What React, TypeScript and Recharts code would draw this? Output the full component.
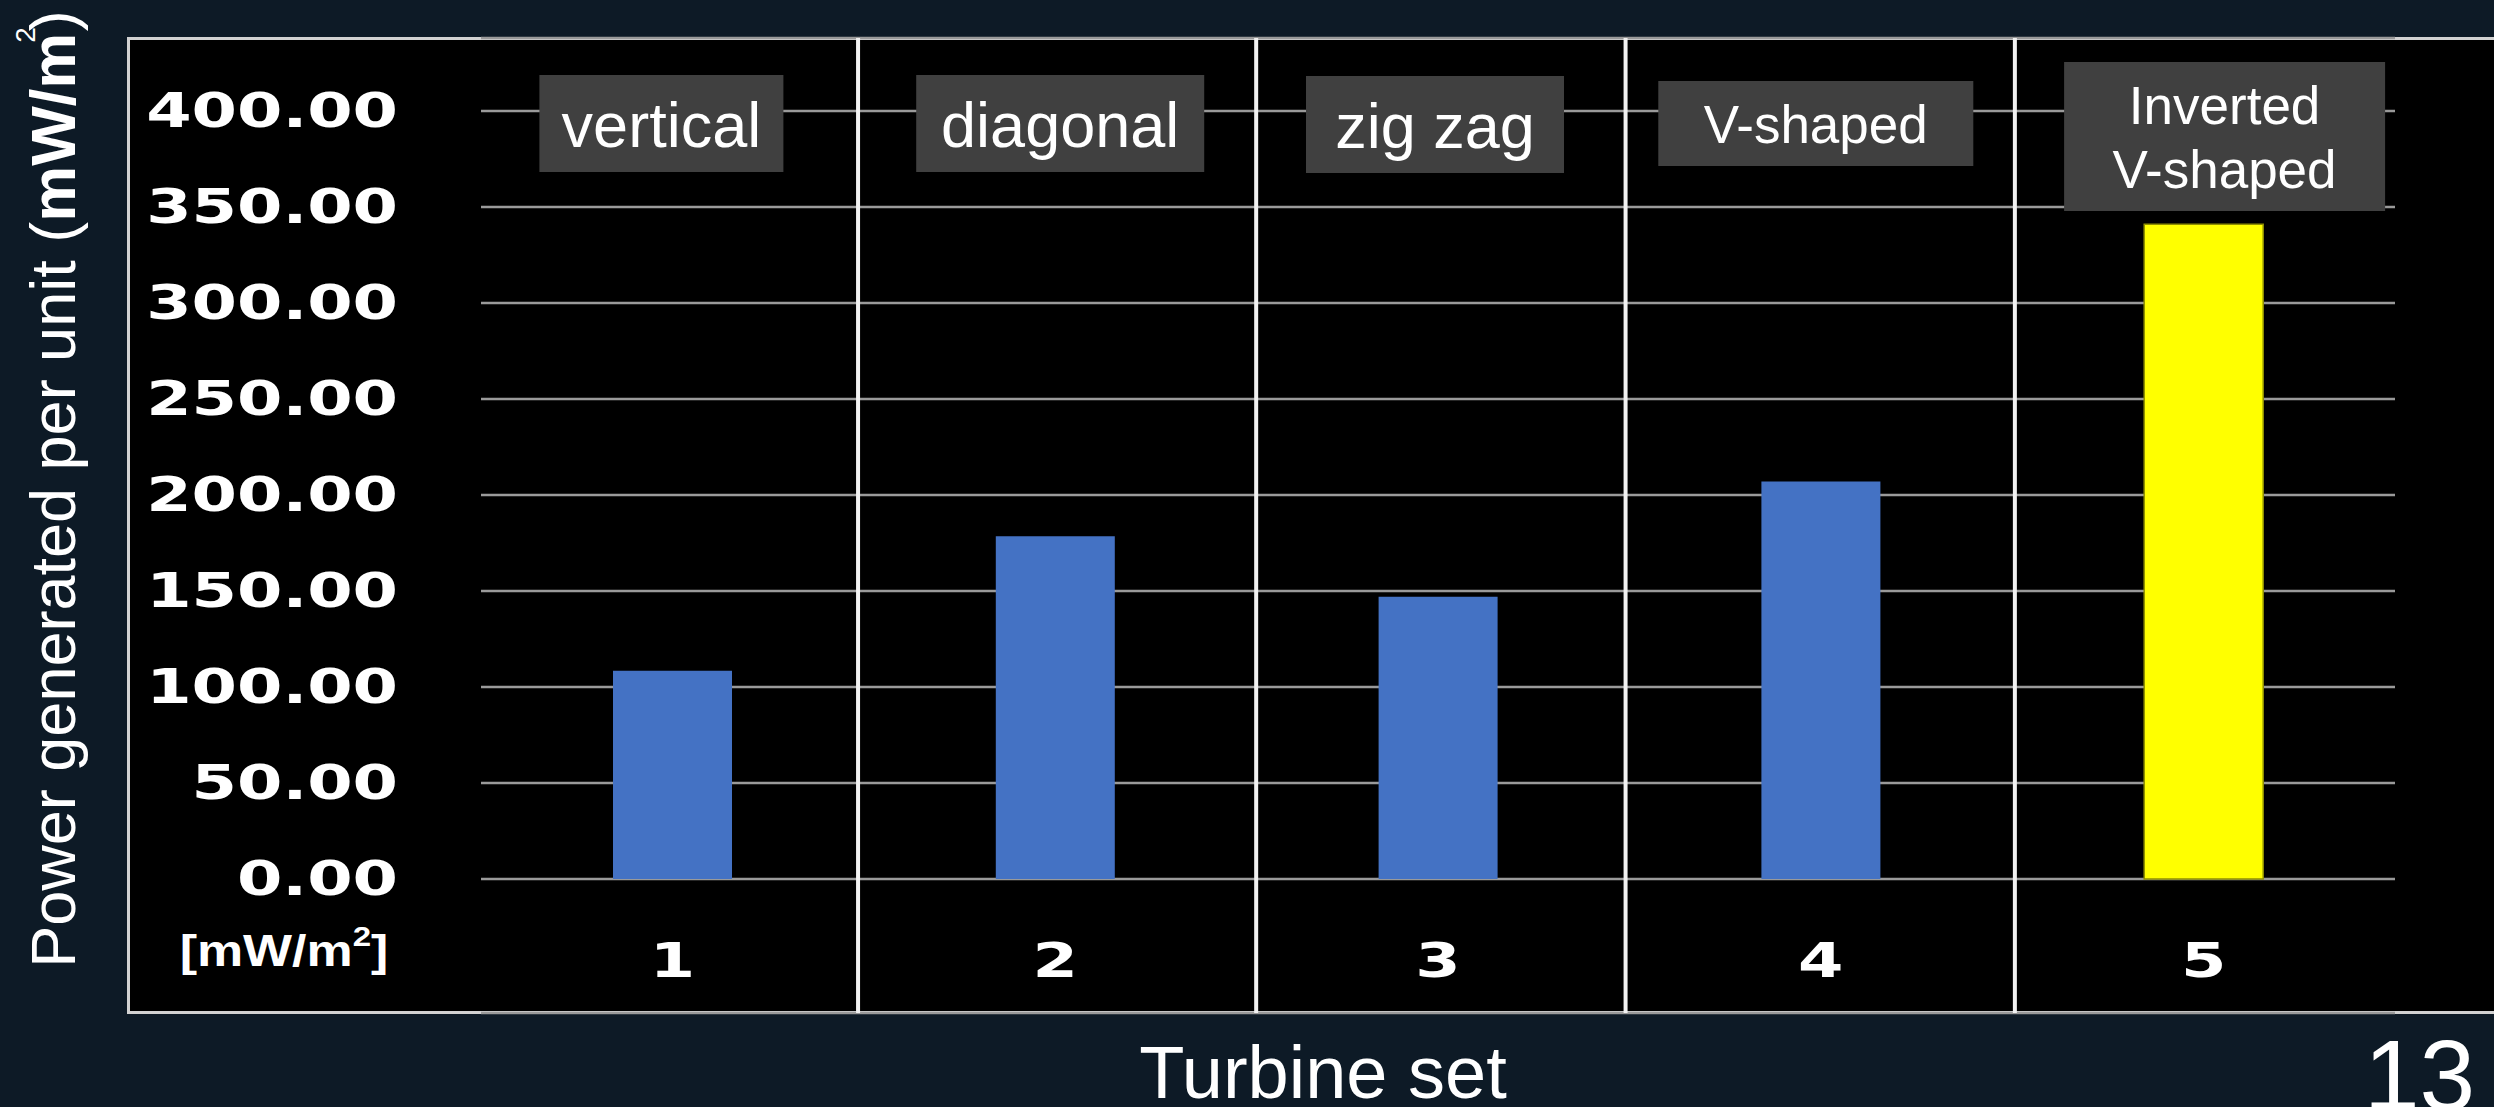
import React from 'react';
import { BarChart, Bar, XAxis, YAxis, CartesianGrid, ReferenceLine, Cell } from 'recharts';

// Chart values
const turbineSets = ['1', '2', '3', '4', '5'];
const layoutNames = [['vertical'], ['diagonal'], ['zig zag'], ['V-shaped'], ['Inverted', 'V-shaped']];
const powerValues = [108.5, 178.5, 147, 207, 341];
const yTicks = [0, 50, 100, 150, 200, 250, 300, 350, 400];
// section dividers, in units of turbine-set bands (0 = left edge of set 1)
const dividerPositions = [0.985, 2.025, 2.99, 4.007];

// Styles
const BLUE = '#4472c4';
const YELLOW = '#ffff00';
const barColors = [BLUE, BLUE, BLUE, BLUE, YELLOW];
const barOutlines = ['none', 'none', 'none', 'none', '#8f8f00'];
const BG = '#0d1a26';
const TICK_FONT = '"DejaVu Sans", Verdana, sans-serif';
const ARIAL = '"Liberation Sans", Arial, sans-serif';

// grey tag boxes above each set (width, height, centre y, font size, x nudge)
const tagBoxes = [
  { w: 244, h: 97, cy: 123.5, fs: 63, dx: -11 },
  { w: 288, h: 97, cy: 123.5, fs: 63, dx: 5 },
  { w: 258, h: 97, cy: 124.5, fs: 63, dx: -3 },
  { w: 315, h: 85, cy: 123.5, fs: 53, dx: -5 },
  { w: 321, h: 149, cy: 136.5, fs: 53, dx: 21 },
];

const data = turbineSets.map((set, i) => ({ set, idx: i + 0.5, power: powerValues[i] }));

const renderYTick = (props: any) => {
  const { x, y, payload } = props;
  return (
    <g transform={`translate(${x},${y}) scale(1.36,1)`}>
      <text x={0} y={0} textAnchor="end" dominantBaseline="central" fill="#fff"
        fontFamily={TICK_FONT} fontWeight="bold" fontSize={48}>
        {Number(payload.value).toFixed(2)}
      </text>
    </g>
  );
};

const renderXTick = (props: any) => {
  const { x, y, payload } = props;
  return (
    <g transform={`translate(${x},${y - 60}) scale(1.36,1)`}>
      <text x={0} y={0} textAnchor="middle" dominantBaseline="central" fill="#fff"
        fontFamily={TICK_FONT} fontWeight="bold" fontSize={48}>
        {payload.value}
      </text>
    </g>
  );
};

const renderTag = (props: any) => {
  const { x, payload } = props;
  const idx = turbineSets.indexOf(String(payload.value));
  if (idx < 0) return <g />;
  const b = tagBoxes[idx];
  const lines = layoutNames[idx];
  const cx = x + b.dx;
  return (
    <g>
      <rect x={cx - b.w / 2} y={b.cy - b.h / 2} width={b.w} height={b.h} fill="#404040" />
      {lines.map((t, i) => (
        <text key={i} x={cx} y={b.cy + 1 + (i - (lines.length - 1) / 2) * 64}
          textAnchor="middle" dominantBaseline="central" fill="#fff"
          fontFamily={ARIAL} fontSize={b.fs}>
          {t}
        </text>
      ))}
    </g>
  );
};

export default function App() {
  return (
    <div style={{ position: 'absolute', left: 0, top: 0, width: 2494, height: 1107, background: BG, overflow: 'hidden' }}>
      {/* black chart panel */}
      <div style={{
        position: 'absolute', left: 127, top: 37, width: 2420, height: 971,
        background: '#000', border: '3px solid #d2d2d2',
      }} />

      <div style={{ position: 'absolute', left: 0, top: 0 }}>
        <BarChart width={2494} height={1107} data={data}
          margin={{ top: 37, right: 99, bottom: 93, left: 281 }}>
          <CartesianGrid horizontal vertical={false} stroke="#9a9a9a" strokeWidth={2.5} />
          <XAxis dataKey="set" height={1} axisLine={false} tickLine={false} interval={0} tick={renderXTick} />
          <XAxis xAxisId="top" orientation="top" dataKey="set" height={1} axisLine={false}
            tickLine={false} interval={0} tick={renderTag} />
          <XAxis xAxisId="div" dataKey="idx" type="number" domain={[0, 5]} allowDataOverflow
            padding={{ left: 0, right: 0 }} hide />
          <YAxis domain={[-69.8, 438]} ticks={yTicks} allowDataOverflow interval={0} width={200}
            axisLine={false} tickLine={false} tickMargin={77} tick={renderYTick} />
          {dividerPositions.map((p) => (
            <ReferenceLine key={p} xAxisId="div" x={p} stroke="#f2f2f2" strokeWidth={4} ifOverflow="visible" />
          ))}
          <Bar dataKey="power" barSize={119} isAnimationActive={false}>
            {data.map((d, i) => (
              <Cell key={d.set} fill={barColors[i]} stroke={barOutlines[i]} strokeWidth={1.5} />
            ))}
          </Bar>
        </BarChart>
      </div>

      {/* y axis title, rotated */}
      <div style={{
        position: 'absolute', left: 53 - 500, top: 489 - 35, width: 1000, height: 70,
        lineHeight: '70px', textAlign: 'center', whiteSpace: 'nowrap',
        fontFamily: ARIAL, fontSize: 63, color: '#fff', transform: 'rotate(-90deg)',
      }}>
        Power generated per unit (<b>mW/m</b>
        <span style={{ fontSize: 28, position: 'relative', top: -40, marginLeft: -10 }}>2</span>
        <span style={{ marginLeft: -4 }}>)</span>
      </div>

      {/* other titles */}
      <svg width={2494} height={1107} style={{ position: 'absolute', left: 0, top: 0, pointerEvents: 'none' }}>
        <g transform="translate(284,950) scale(1.18,1)">
          <text x={0} y={0} textAnchor="middle" dominantBaseline="central" fontFamily={ARIAL}
            fontWeight="bold" fontSize={44} fill="#fff">
            [mW/m<tspan fontSize={28} dy={-14}>2</tspan><tspan dy={14}>]</tspan>
          </text>
        </g>
        <text x={1323} y={1098} textAnchor="middle" fontFamily={ARIAL} fontSize={74} fill="#fff">
          Turbine set
        </text>
        <text x={2364} y={1110} fontFamily={ARIAL} fontSize={100} fill="#fff">13</text>
      </svg>
    </div>
  );
}
